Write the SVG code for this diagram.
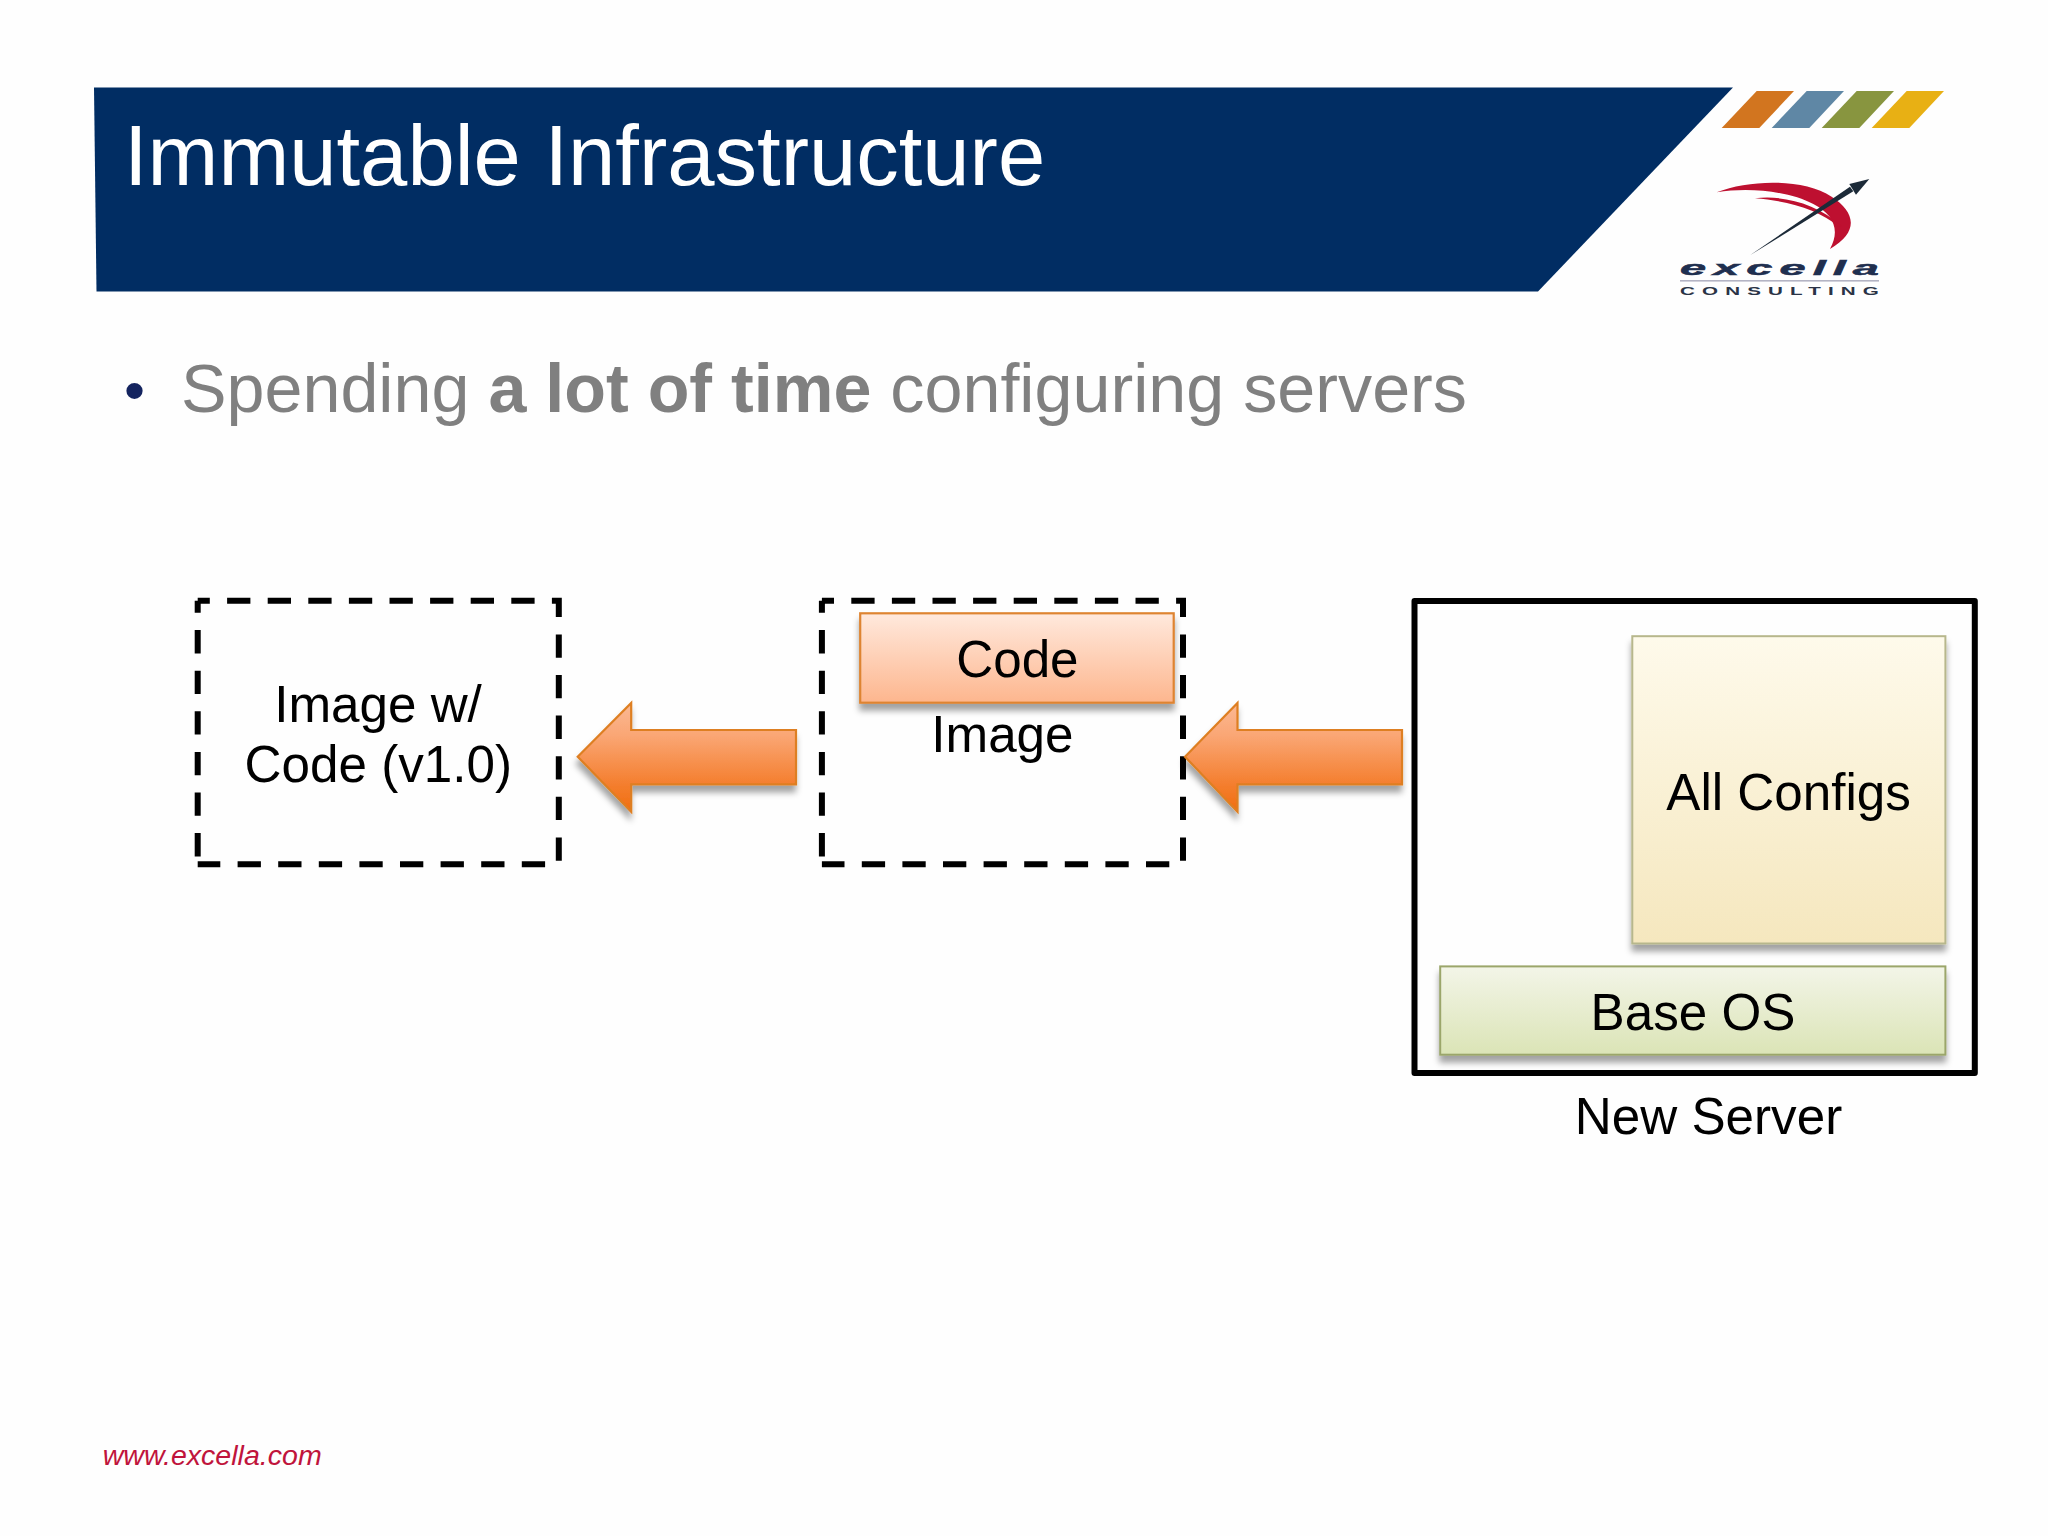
<svg xmlns="http://www.w3.org/2000/svg" width="2048" height="1536" viewBox="0 0 2048 1536">
<defs>
<linearGradient id="gArrow" x1="0" y1="0" x2="0" y2="1"><stop offset="0" stop-color="#FBB995"/><stop offset="0.3" stop-color="#FAA674"/><stop offset="0.75" stop-color="#F47E2E"/><stop offset="1" stop-color="#F06E10"/></linearGradient>
<linearGradient id="gCode" x1="0" y1="0" x2="0" y2="1"><stop offset="0" stop-color="#FFE9DD"/><stop offset="1" stop-color="#FDB68E"/></linearGradient>
<linearGradient id="gCfg" x1="0" y1="0" x2="0" y2="1"><stop offset="0" stop-color="#FEFAEB"/><stop offset="1" stop-color="#F5E7BE"/></linearGradient>
<linearGradient id="gOs" x1="0" y1="0" x2="0" y2="1"><stop offset="0" stop-color="#F3F5E8"/><stop offset="1" stop-color="#DBE4B6"/></linearGradient>
<filter id="sh" x="-10%" y="-10%" width="120%" height="130%"><feDropShadow dx="0" dy="7" stdDeviation="3" flood-color="#000" flood-opacity="0.36"/></filter>
<filter id="shA" x="-10%" y="-10%" width="120%" height="130%"><feDropShadow dx="-1" dy="7" stdDeviation="3" flood-color="#000" flood-opacity="0.36"/></filter>
</defs>
<style>
text{font-family:"Liberation Sans",Arial,sans-serif}
.lbl{font-size:51.2px;fill:#000;text-anchor:middle}
.dash{fill:none;stroke:#000;stroke-width:6;stroke-dasharray:23.3 17.3;stroke-dashoffset:11.2}
.arrow{fill:url(#gArrow);stroke:#DE7F22;stroke-width:2.2;filter:url(#shA)}
</style>
<rect width="2048" height="1536" fill="#FEFEFE"/>
<g id="header">
<polygon points="94,87.5 1733,87.5 1538,291.5 96.5,291.5" fill="#012D63"/>
<text x="124" y="184.5" font-size="85" fill="#fff">Immutable Infrastructure</text>
<polygon points="1756.7,91 1794,91 1759.3,128 1721.7,128" fill="#D2751F"/>
<polygon points="1806.7,91 1844,91 1809.3,128 1771.7,128" fill="#5F87A5"/>
<polygon points="1856.7,91 1894,91 1859.3,128 1821.7,128" fill="#88953F"/>
<polygon points="1906.7,91 1944,91 1909.3,128 1871.7,128" fill="#E8B014"/>
</g>
<g id="logo">
<g transform="translate(1600,70) scale(0.3333)">
<path d="M350,367 C450,328 610,325 695,380 C765,425 780,485 690,537 C722,480 700,432 640,402 C570,365 450,350 350,367Z" fill="#BE1030"/>
<path d="M465,385 C550,375 650,400 725,468 L715,470 C660,420 560,392 465,385Z" fill="#BE1030"/>
<polygon points="450,556 750,350 760,364" fill="#1C2A38"/>
<polygon points="808,327 748,342 756,355 768,374" fill="#1C2A38"/>
</g>
<text x="1680" y="275" font-size="20" font-weight="bold" font-style="italic" letter-spacing="3" fill="#1F2F4F" stroke="#1F2F4F" stroke-width="0.5" textLength="206" lengthAdjust="spacingAndGlyphs">excella</text>
<rect x="1680" y="280" width="199" height="1.6" fill="#B4B4C4"/>
<text x="1680" y="295" font-size="11.5" font-weight="bold" letter-spacing="4" fill="#2A3346" textLength="206" lengthAdjust="spacingAndGlyphs">CONSULTING</text>
</g>
<g id="bullet">
<text x="134.5" y="410.5" font-size="60" fill="#14245F" text-anchor="middle">•</text>
<text x="181" y="412" font-size="68.25" fill="#808080" xml:space="preserve">Spending <tspan font-weight="bold">a lot of time</tspan> configuring servers</text>
</g>
<g id="image-v1">
<path class="dash" d="M197.7,600.7 H558.8 V864.3 H197.7 M197.7,600.7 V864.3"/>
<text class="lbl" x="378" y="721.7">Image w/</text>
<text class="lbl" x="378.3" y="782.2">Code (v1.0)</text>
</g>
<g id="image">
<path class="dash" d="M821.9,600.7 H1183 V864.3 H821.9 M821.9,600.7 V864.3"/>
<text class="lbl" x="1002.4" y="751.7">Image</text>
</g>
<g id="code">
<rect x="860.2" y="613.3" width="313.5" height="89.4" fill="url(#gCode)" stroke="#DE8430" stroke-width="2.2" filter="url(#sh)"/>
<text class="lbl" x="1017.4" y="677.2">Code</text>
</g>
<g id="server">
<rect x="1414.5" y="600.9" width="560.3" height="472" fill="none" stroke="#000" stroke-width="6" stroke-linejoin="round"/>
<text class="lbl" x="1708.5" y="1134">New Server</text>
</g>
<g id="all-configs">
<rect x="1632.3" y="636.2" width="313.1" height="307.3" fill="url(#gCfg)" stroke="#B7B78C" stroke-width="2" filter="url(#sh)"/>
<text class="lbl" x="1788.6" y="809.6">All Configs</text>
</g>
<g id="base-os">
<rect x="1440.2" y="966.4" width="505.2" height="88.3" fill="url(#gOs)" stroke="#9BA66B" stroke-width="2" filter="url(#sh)"/>
<text class="lbl" x="1693" y="1030">Base OS</text>
</g>
<g id="connectors">
<polygon class="arrow" points="577.7,756.7 631.2,703 631.2,730 796,730 796,784.3 631.2,784.3 631.2,811.7"/>
<polygon class="arrow" points="1185,756.7 1237.5,703 1237.5,730 1402,730 1402,784.3 1237.5,784.3 1237.5,811.7"/>
</g>
<g id="footer">
<text x="102.7" y="1465" font-size="28.4" font-style="italic" fill="#C0143C" textLength="219" lengthAdjust="spacingAndGlyphs">www.excella.com</text>
</g>
</svg>
